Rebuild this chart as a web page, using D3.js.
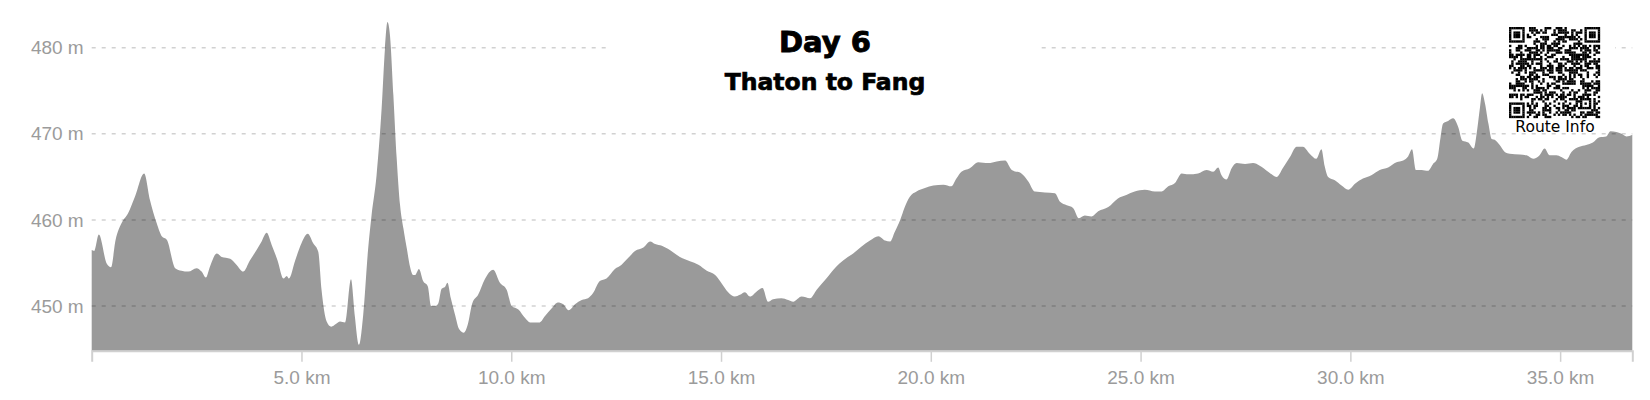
<!DOCTYPE html>
<html><head><meta charset="utf-8">
<script src="https://cdn.jsdelivr.net/npm/d3@7"></script>
<style>html,body{margin:0;padding:0;background:#fff;} svg{display:block}</style>
</head><body><svg id="c" width="1650" height="400"></svg>
<script>
const distKm = [0.00,0.06,0.17,0.36,0.46,0.57,0.71,0.87,1.03,1.25,1.39,1.55,1.67,1.79,1.99,2.14,2.30,2.50,2.62,2.72,2.82,2.98,3.10,3.30,3.45,3.61,3.77,3.93,4.05,4.17,4.29,4.43,4.57,4.65,4.70,4.85,5.00,5.15,5.28,5.40,5.48,5.60,5.71,5.82,5.92,6.04,6.18,6.27,6.37,6.47,6.59,6.67,6.79,6.91,6.99,7.05,7.11,7.19,7.27,7.35,7.43,7.51,7.59,7.66,7.71,7.80,7.90,8.01,8.09,8.18,8.26,8.34,8.42,8.48,8.56,8.66,8.76,8.87,8.96,9.07,9.21,9.37,9.57,9.73,9.89,10.01,10.17,10.33,10.45,10.68,10.80,10.96,11.11,11.24,11.37,11.52,11.68,11.83,11.95,12.11,12.27,12.47,12.63,12.79,12.95,13.15,13.31,13.43,13.59,13.78,14.02,14.26,14.46,14.66,14.86,15.02,15.17,15.33,15.45,15.57,15.69,15.85,15.99,16.12,16.24,16.44,16.60,16.72,16.92,17.12,17.28,17.51,17.75,17.91,18.15,18.35,18.55,18.75,18.91,19.03,19.14,19.27,19.38,19.50,19.66,19.86,20.06,20.30,20.49,20.61,20.73,20.93,21.13,21.37,21.57,21.77,21.93,22.16,22.32,22.48,22.72,22.96,23.08,23.24,23.39,23.53,23.67,23.83,23.99,24.23,24.46,24.66,24.86,25.10,25.34,25.50,25.66,25.82,25.98,26.14,26.37,26.57,26.73,26.85,26.93,27.05,27.17,27.29,27.49,27.68,27.84,28.04,28.24,28.40,28.56,28.72,28.87,29.03,29.19,29.31,29.39,29.47,29.63,29.79,29.95,30.11,30.30,30.50,30.70,30.90,31.10,31.26,31.38,31.47,31.56,31.70,31.85,31.97,32.07,32.15,32.21,32.33,32.45,32.57,32.67,32.81,32.94,33.02,33.09,33.14,33.21,33.29,33.37,33.44,33.56,33.68,33.80,34.04,34.20,34.36,34.51,34.63,34.75,34.91,35.03,35.15,35.27,35.46,35.62,35.78,35.94,36.10,36.20,36.34,36.46,36.58,36.72];
const elevM = [456.5,456.4,458.3,454.9,454.5,457.7,459.6,460.8,462.7,465.4,462.3,459.6,458.1,457.7,454.4,454.1,454.0,454.4,454.0,453.3,454.6,456.1,455.7,455.5,454.8,454.0,455.3,456.5,457.5,458.5,457.1,455.3,453.2,453.5,453.2,455.3,457.3,458.4,457.3,456.3,451.8,448.2,447.6,447.9,448.2,448.1,453.1,448.9,445.5,448.9,456.7,460.5,465.2,472.9,479.9,483.0,481.4,474.5,467.1,461.7,459.0,456.7,454.5,453.6,453.6,454.3,452.9,452.3,450.0,450.0,450.3,452.0,452.2,452.7,450.9,449.0,447.3,446.9,447.8,450.3,451.3,453.1,454.2,452.7,451.9,450.0,449.6,448.6,448.1,448.1,448.8,449.7,450.4,450.2,449.5,450.2,450.7,450.9,451.5,452.9,453.2,454.3,454.8,455.6,456.4,456.8,457.5,457.2,457.0,456.5,455.7,455.2,454.8,454.1,453.6,452.6,451.6,451.1,451.3,451.6,451.1,451.7,452.1,450.5,450.8,450.9,450.7,450.5,451.1,450.9,451.9,453.2,454.6,455.3,456.1,456.9,457.6,458.1,457.6,457.5,458.6,460.0,461.5,462.7,463.3,463.7,464.0,464.1,463.9,464.8,465.6,466.0,466.7,466.6,466.8,466.9,465.8,465.4,464.5,463.3,463.2,463.1,462.1,461.7,461.4,460.2,460.5,460.4,461.0,461.5,462.5,462.9,463.3,463.5,463.3,463.3,463.9,464.3,465.4,465.3,465.4,465.8,465.6,466.1,465.2,464.7,466.0,466.6,466.5,466.6,466.3,465.6,465.0,466.1,467.3,468.5,468.5,467.7,467.1,468.2,466.2,465.0,464.6,464.0,463.5,464.2,464.8,465.2,465.8,466.1,466.7,466.9,467.4,468.2,465.8,465.8,465.7,466.5,467.1,469.6,471.2,471.5,471.8,470.8,469.2,469.0,468.3,470.4,473.1,474.7,473.5,471.2,469.4,469.3,468.7,467.9,467.7,467.6,467.5,467.1,467.5,468.3,467.5,467.5,467.3,467.0,467.9,468.5,468.7,469.0,469.6,469.7,470.3,470.2,470.0,469.7,469.9];
const yTicks = [450, 460, 470, 480];
const xTicks = [5, 10, 15, 20, 25, 30, 35];
const titleText = "Day 6";
const subtitleText = "Thaton to Fang";
const qrLabel = "Route Info";

const svg = d3.select("#c");
const x = d3.scaleLinear().domain([0, 36.72]).range([91.7, 1632.3]);
const y = d3.scaleLinear().domain([444.8, 483]).range([350.8, 21.9]);
const data = distKm.map((d, i) => ({d, e: elevM[i]}));

// area
svg.append("path")
  .datum(data)
  .attr("fill", "#9a9a9a")
  .attr("d", d3.area().x(p => x(p.d)).y0(y(444.8)).y1(p => y(p.e)).curve(d3.curveMonotoneX));

// gridlines
svg.append("g").selectAll("line").data(yTicks).join("line")
  .attr("x1", x(0)).attr("x2", x(36.72))
  .attr("y1", d => y(d)).attr("y2", d => y(d))
  .attr("stroke", "#000").attr("stroke-opacity", 0.18)
  .attr("stroke-width", 1.5).attr("stroke-dasharray", "4,6");

// x axis
const xa = svg.append("g").attr("transform", `translate(0,${y(444.8)})`)
  .call(d3.axisBottom(x).tickValues(xTicks).tickFormat(d => d.toFixed(1) + " km")
    .tickSize(11).tickSizeOuter(11).tickPadding(9));
xa.select(".domain").attr("stroke", "#d0d0d0").attr("stroke-width", 2);
xa.selectAll(".tick line").attr("stroke", "#d0d0d0").attr("stroke-width", 1.5);
xa.selectAll("text").attr("fill", "#9b9b9b").style("font-family", "'Liberation Sans', Arial, sans-serif").style("font-size", "19px");

// y axis labels
const ya = svg.append("g").attr("transform", `translate(${x(0)},0)`)
  .call(d3.axisLeft(y).tickValues(yTicks).tickFormat(d => d + " m").tickSize(0).tickPadding(8));
ya.select(".domain").remove();
ya.selectAll("text").attr("fill", "#9b9b9b").style("font-family", "'Liberation Sans', Arial, sans-serif").style("font-size", "19px");

// title box
svg.append("rect").attr("x", 610).attr("y", 8).attr("width", 430).attr("height", 100).attr("fill", "#fff");
svg.append("text").attr("x", 825).attr("y", 52).attr("text-anchor", "middle")
  .style("font-family", "'DejaVu Sans', sans-serif").style("font-weight", "bold").style("font-size", "29px")
  .attr("fill", "#000").attr("stroke", "#000").attr("stroke-width", 0.9).text(titleText);
svg.append("text").attr("x", 825).attr("y", 90).attr("text-anchor", "middle")
  .style("font-family", "'DejaVu Sans', sans-serif").style("font-weight", "bold").style("font-size", "23.5px")
  .attr("fill", "#000").attr("stroke", "#000").attr("stroke-width", 0.7).text(subtitleText);

// QR box
svg.append("rect").attr("x", 1490).attr("y", 18).attr("width", 125).attr("height", 113).attr("fill", "#fff");
const qrN = 41, qrX = 1509, qrY = 27, qrS = 91 / qrN;
const cells = [];
function finder(r0, c0) {
  for (let r = 0; r < 7; r++) for (let c = 0; c < 7; c++) {
    const on = (r === 0 || r === 6 || c === 0 || c === 6 || (r >= 2 && r <= 4 && c >= 2 && c <= 4));
    if (on) cells.push([r0 + r, c0 + c]);
  }
}
function reserved(r, c) {
  if (r < 8 && c < 8) return true;
  if (r < 8 && c >= qrN - 8) return true;
  if (r >= qrN - 8 && c < 8) return true;
  if (r >= 32 && r <= 36 && c >= 32 && c <= 36) return true;
  return false;
}
finder(0, 0); finder(0, qrN - 7); finder(qrN - 7, 0);
for (let r = 32; r <= 36; r++) for (let c = 32; c <= 36; c++) {
  if (r === 32 || r === 36 || c === 32 || c === 36 || (r === 34 && c === 34)) cells.push([r, c]);
}
for (let r = 0; r < qrN; r++) for (let c = 0; c < qrN; c++) {
  if (reserved(r, c)) continue;
  let h = (r * 374761393 + c * 668265263) | 0;
  h = Math.imul(h ^ (h >>> 13), 1274126177);
  h = h ^ (h >>> 16);
  if ((h & 7) < 4) cells.push([r, c]);
}
svg.append("g").selectAll("rect").data(cells).join("rect")
  .attr("x", d => qrX + d[1] * qrS).attr("y", d => qrY + d[0] * qrS)
  .attr("width", qrS + 0.15).attr("height", qrS + 0.15).attr("fill", "#000");
svg.append("text").attr("x", 1555).attr("y", 132).attr("text-anchor", "middle")
  .style("font-family", "'DejaVu Sans', sans-serif").style("font-size", "15.5px")
  .attr("fill", "#000").text(qrLabel);
</script></body></html>
